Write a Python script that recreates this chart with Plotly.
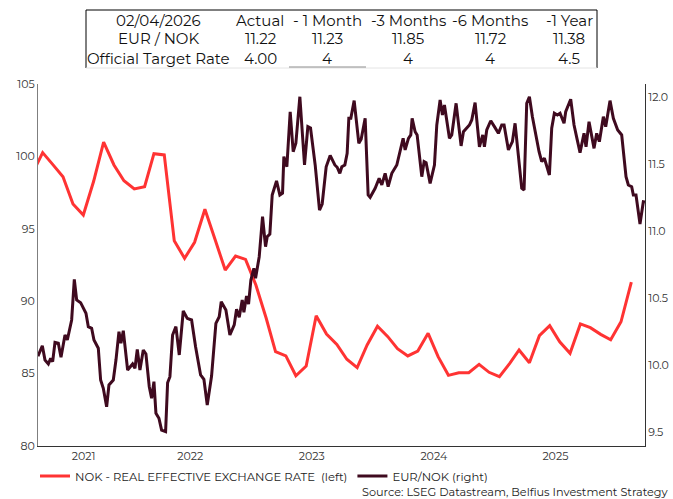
import plotly.graph_objects as go

# ---------------- DATA ----------------
# NOK real effective exchange rate (left axis), monthly (mid-month)
reer_months = [(2021, m) for m in range(3, 13)] + [(y, m) for y in (2022, 2023, 2024, 2025) for m in range(1, 13)] + [(2026, 1), (2026, 2)]
reer_dates = [f"{y}-{m:02d}-15" for y, m in reer_months]
reer_values = [
    98.8, 100.26, 99.45, 98.6, 96.71, 95.95, 98.28, 100.99, 99.41, 98.32,
    97.75, 97.91, 100.19, 100.10, 94.18, 92.96, 94.07, 96.35, 94.23, 92.15, 93.12, 92.89,
    91.12, 88.82, 86.51, 86.22, 84.85, 85.52, 89.0, 87.73, 87.02, 85.99, 85.41, 86.98,
    88.27, 87.55, 86.72, 86.22, 86.56, 87.78, 86.17, 84.88, 85.06, 85.06, 85.64, 85.09,
    84.79, 85.71, 86.63, 85.75, 87.62, 88.31, 87.20, 86.40, 88.43, 88.17, 87.71, 87.34,
    88.58, 91.31,
]

# EUR/NOK (right axis)
eurnok_dates = [
    "2021-04-01", "2021-04-14", "2021-04-22", "2021-05-02", "2021-05-09", "2021-05-15", "2021-05-22", "2021-06-01",
    "2021-06-09", "2021-06-21", "2021-06-28", "2021-07-11", "2021-07-19", "2021-07-26", "2021-08-07", "2021-08-23",
    "2021-08-30", "2021-09-09", "2021-09-16", "2021-09-29", "2021-10-06", "2021-10-14", "2021-10-24", "2021-10-31",
    "2021-11-13", "2021-11-21", "2021-11-30", "2021-12-06", "2021-12-13", "2021-12-26", "2022-01-10", "2022-01-17",
    "2022-01-24", "2022-02-01", "2022-02-11", "2022-02-19", "2022-03-01", "2022-03-08", "2022-03-15", "2022-03-21",
    "2022-03-30", "2022-04-07", "2022-04-19", "2022-04-25", "2022-05-02", "2022-05-10", "2022-05-20", "2022-05-30",
    "2022-06-11", "2022-06-23", "2022-07-06", "2022-07-18", "2022-08-02", "2022-08-12", "2022-08-22", "2022-09-04",
    "2022-09-17", "2022-09-27", "2022-10-03", "2022-10-17", "2022-10-29", "2022-11-11", "2022-11-18", "2022-11-26",
    "2022-12-05", "2022-12-10", "2022-12-18", "2022-12-24", "2022-12-31", "2023-01-09", "2023-01-14", "2023-01-25",
    "2023-02-04", "2023-02-13", "2023-02-18", "2023-02-26", "2023-03-05", "2023-03-18", "2023-03-28", "2023-04-05",
    "2023-04-09", "2023-04-18", "2023-04-28", "2023-05-07", "2023-05-15", "2023-05-27", "2023-06-10", "2023-06-20",
    "2023-06-28", "2023-07-12", "2023-07-25", "2023-08-02", "2023-08-14", "2023-08-26", "2023-09-09", "2023-09-16",
    "2023-09-24", "2023-09-30", "2023-10-09", "2023-10-16", "2023-10-21", "2023-10-27", "2023-11-06", "2023-11-20",
    "2023-11-27", "2023-12-09", "2023-12-18", "2023-12-24", "2024-01-08", "2024-01-20", "2024-01-28", "2024-02-07",
    "2024-02-16", "2024-02-27", "2024-03-13", "2024-03-20", "2024-04-01", "2024-04-07", "2024-04-17", "2024-04-24",
    "2024-04-28", "2024-05-07", "2024-05-13", "2024-05-27", "2024-06-03", "2024-06-09", "2024-06-21", "2024-07-04",
    "2024-07-11", "2024-07-21", "2024-07-28", "2024-08-03", "2024-08-18", "2024-08-25", "2024-09-07", "2024-09-22",
    "2024-09-29", "2024-10-17", "2024-10-24", "2024-11-03", "2024-11-16", "2024-11-26", "2024-12-01", "2024-12-08",
    "2024-12-20", "2024-12-31", "2025-01-12", "2025-01-22", "2025-01-29", "2025-02-11", "2025-02-23", "2025-03-03",
    "2025-03-13", "2025-03-23", "2025-03-30", "2025-04-07", "2025-04-15", "2025-04-24", "2025-05-14", "2025-05-22",
    "2025-05-30", "2025-06-14", "2025-06-21", "2025-06-29", "2025-07-08", "2025-07-16", "2025-07-28", "2025-08-02",
    "2025-08-17", "2025-08-27", "2025-09-04", "2025-09-14", "2025-09-26", "2025-10-02", "2025-10-11", "2025-10-26",
    "2025-11-03", "2025-11-11", "2025-11-23", "2025-11-30", "2025-12-13", "2025-12-23", "2026-01-05", "2026-01-17",
    "2026-01-30", "2026-02-06", "2026-02-16", "2026-02-21", "2026-03-01", "2026-03-13", "2026-03-23", "2026-03-28",
]
eurnok_values = [
    10.07, 10.148, 10.041, 10.012, 10.054, 10.029, 10.173, 10.166,
    10.062, 10.228, 10.191, 10.340, 10.643, 10.489, 10.469, 10.390,
    10.290, 10.278, 10.191, 10.129, 9.892, 9.830, 9.693, 9.855,
    9.892, 10.041, 10.253, 10.166, 10.260, 9.967, 10.012, 9.980,
    10.121, 9.967, 10.116, 10.086, 9.842, 9.756, 9.880, 9.644,
    9.607, 9.519, 9.507, 9.872, 9.917, 10.228, 10.290, 10.079,
    10.407, 10.352, 10.340, 10.141, 9.930, 9.897, 9.706, 9.922,
    10.315, 10.364, 10.476, 10.414, 10.228, 10.303, 10.420, 10.360,
    10.489, 10.397, 10.519, 10.459, 10.638, 10.725, 10.651, 10.812,
    11.110, 10.887, 10.961, 10.981, 11.272, 11.377, 11.272, 11.285,
    11.558, 11.483, 11.893, 11.595, 11.658, 12.005, 11.496, 11.782,
    11.772, 11.496, 11.160, 11.205, 11.483, 11.567, 11.496, 11.479,
    11.434, 11.483, 11.496, 11.583, 11.844, 11.844, 11.976, 11.658,
    11.688, 11.844, 11.272, 11.255, 11.322, 11.397, 11.347, 11.434,
    11.334, 11.434, 11.496, 11.571, 11.695, 11.608, 11.695, 11.720,
    11.844, 11.744, 11.720, 11.409, 11.521, 11.513, 11.359, 11.496,
    11.794, 11.981, 11.869, 11.943, 11.695, 11.720, 11.956, 11.638,
    11.744, 11.794, 11.832, 11.961, 11.632, 11.720, 11.632, 11.757,
    11.826, 11.782, 11.732, 11.794, 11.794, 11.608, 11.670, 11.807,
    11.583, 11.322, 11.309, 11.956, 12.005, 11.856, 11.595, 11.521,
    11.546, 11.421, 11.770, 11.882, 11.869, 11.882, 11.807, 11.893,
    11.986, 11.794, 11.702, 11.588, 11.732, 11.632, 11.819, 11.620,
    11.732, 11.670, 11.856, 11.782, 11.976, 11.844, 11.757, 11.720,
    11.409, 11.347, 11.334, 11.272, 11.272, 11.056, 11.222, 11.22,
]

# Axis ticks
x_range = ["2021-04-01", "2026-03-28"]
x_tick_vals = ["2021-08-16", "2022-07-02", "2023-07-02", "2024-07-02", "2025-07-02"]
x_tick_text = ["2021", "2022", "2023", "2024", "2025"]
left_ticks = [80, 85, 90, 95, 100, 105]
right_ticks = [9.5, 10.0, 10.5, 11.0, 11.5, 12.0]

# Summary table
table_header = ["02/04/2026", "Actual", "- 1 Month", "-3 Months", "-6 Months", "-1 Year"]
table_eurnok = ["EUR / NOK", "11.22", "11.23", "11.85", "11.72", "11.38"]
table_rate = ["Official Target Rate", "4.00", "4", "4", "4", "4.5"]

series_names = ["NOK - REAL EFFECTIVE EXCHANGE RATE  (left)", "EUR/NOK (right)"]
source_text = "Source: LSEG Datastream, Belfius Investment Strategy"

# ---------------- STYLE ----------------
RED = "#FF3333"
DARK = "#3F0A1F"
FONT = "Montserrat, 'Open Sans', sans-serif"
W, H = 673, 499
ML, MR, MT, MB = 38, 28, 84, 53
PW, PH = W - ML - MR, H - MT - MB


def px2x(p):
    return (p - ML) / PW


def px2y(p):
    return (H - MB - p) / PH


fig = go.Figure()
fig.add_trace(go.Scatter(x=reer_dates, y=reer_values, mode="lines", name=series_names[0],
                         line=dict(color=RED, width=3), yaxis="y"))
fig.add_trace(go.Scatter(x=eurnok_dates, y=eurnok_values, mode="lines", name=series_names[1],
                         line=dict(color=DARK, width=3), yaxis="y2"))

annotations = []
col_x = [158, 260, 327, 408, 490, 569]
row_y = [20, 39, 58]
for ry, row in zip(row_y, [table_header, table_eurnok, table_rate]):
    for cx, txt in zip(col_x, row):
        annotations.append(dict(x=px2x(cx), y=px2y(ry), xref="paper", yref="paper", text=txt,
                                showarrow=False, xanchor="center", yanchor="middle",
                                font=dict(family=FONT, size=15, color="#111111")))
annotations.append(dict(x=px2x(671), y=px2y(492), xref="paper", yref="paper", text=source_text,
                        showarrow=False, xanchor="right", yanchor="middle",
                        font=dict(family=FONT, size=11.3, color="#222222")))

shapes = [
    dict(type="line", xref="paper", yref="paper", x0=px2x(86), x1=px2x(597), y0=px2y(10), y1=px2y(10),
         line=dict(color="#000000", width=1)),
    dict(type="line", xref="paper", yref="paper", x0=px2x(86), x1=px2x(86), y0=px2y(10), y1=px2y(68),
         line=dict(color="#000000", width=1)),
    dict(type="line", xref="paper", yref="paper", x0=px2x(597), x1=px2x(597), y0=px2y(10), y1=px2y(68),
         line=dict(color="#000000", width=1)),
    dict(type="line", xref="paper", yref="paper", x0=px2x(86), x1=px2x(597), y0=px2y(68), y1=px2y(68),
         line=dict(color="#E4E4E4", width=1)),
    dict(type="line", xref="paper", yref="paper", x0=px2x(289), x1=px2x(366), y0=px2y(67), y1=px2y(67),
         line=dict(color="#8C8C8C", width=1)),
]

fig.update_layout(
    width=W, height=H,
    margin=dict(l=ML, r=MR, t=MT, b=MB, pad=0, autoexpand=False),
    paper_bgcolor="white", plot_bgcolor="white",
    font=dict(family=FONT, size=11, color="#333333"),
    showlegend=True,
    legend=dict(orientation="h", x=px2x(35), y=px2y(476), xanchor="left", yanchor="middle",
                font=dict(family=FONT, size=11.6, color="#222222"), bgcolor="rgba(0,0,0,0)",
                itemwidth=30, tracegroupgap=0),
    xaxis=dict(type="date", range=x_range, tickmode="array", tickvals=x_tick_vals, ticktext=x_tick_text,
               showgrid=False, zeroline=False, showline=True, linecolor="#333333", linewidth=1,
               ticks="", tickfont=dict(family=FONT, size=11, color="#333333")),
    yaxis=dict(range=[80, 105], tickmode="array", tickvals=left_ticks, showgrid=False, zeroline=False,
               showline=True, linecolor="#7F7F7F", linewidth=1, ticks="",
               tickfont=dict(family=FONT, size=11, color="#333333")),
    yaxis2=dict(range=[9.4, 12.1], tickmode="array", tickvals=right_ticks, tickformat=".1f",
                overlaying="y", side="right", showgrid=False, zeroline=False,
                showline=True, linecolor="#333333", linewidth=1, ticks="",
                tickfont=dict(family=FONT, size=11, color="#333333")),
    annotations=annotations,
    shapes=shapes,
)

fig.write_html("out.html", config={"displayModeBar": False},
               post_script="document.body.style.margin='0';document.body.style.padding='0';")
